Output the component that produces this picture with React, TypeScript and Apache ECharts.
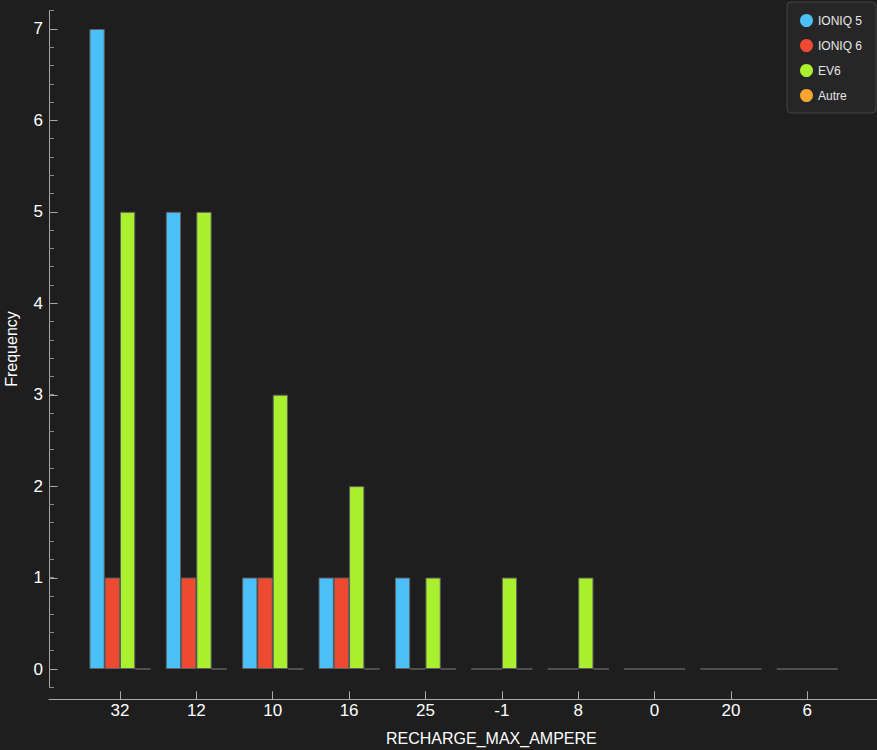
import React, { useEffect, useRef } from "react";
import * as echarts from "echarts";

const categories = ["32", "12", "10", "16", "25", "-1", "8", "0", "20", "6"];
const seriesNames = ["IONIQ 5", "IONIQ 6", "EV6", "Autre"];
const ioniq5 = [7, 5, 1, 1, 1, 0, 0, 0, 0, 0];
const ioniq6 = [1, 1, 1, 1, 0, 0, 0, 0, 0, 0];
const ev6 = [5, 5, 3, 2, 1, 1, 1, 0, 0, 0];
const autre = [0, 0, 0, 0, 0, 0, 0, 0, 0, 0];
const seriesColors = ["#4bc0f8", "#ee4a32", "#aaf02e", "#f6a530"];
const yMajorTicks = [0, 1, 2, 3, 4, 5, 6, 7];
const yMin = -0.2;
const yMax = 7.2;

const FONT = "'Liberation Sans', Arial, Helvetica, sans-serif";

export default function App() {
  const ref = useRef<HTMLDivElement>(null);

  useEffect(() => {
    if (!ref.current) return;
    const chart = echarts.init(ref.current, null, { renderer: "svg" });
    const values = [ioniq5, ioniq6, ev6, autre];

    const gridTop = 10.7;
    const gridHeight = 676.6;

    const barSeries = seriesNames.map((name, i) => ({
      name,
      type: "bar",
      xAxisIndex: 1,
      yAxisIndex: 1,
      data: values[i],
      barGap: "0%",
      barCategoryGap: "20%",
      itemStyle: {
        color: seriesColors[i],
        borderColor: "#606060",
        borderWidth: 1,
      },
      emphasis: { disabled: true },
    }));

    const option: any = {
      animation: false,
      backgroundColor: "#1e1e1e",
      textStyle: { fontFamily: FONT },
      color: seriesColors,
      grid: [
        {
          left: 49,
          right: 0,
          top: gridTop,
          height: gridHeight,
          containLabel: false,
          outerBoundsMode: "none",
        },
        {
          left: 81.8,
          width: 763.7,
          top: gridTop,
          height: gridHeight,
          containLabel: false,
          outerBoundsMode: "none",
        },
      ],
      xAxis: [
        {
          type: "value",
          gridIndex: 0,
          min: 0,
          max: 1,
          position: "bottom",
          offset: 12,
          axisLine: { show: true, onZero: false, lineStyle: { color: "#aaaaaa", width: 1 } },
          axisTick: { show: false },
          axisLabel: { show: false },
          splitLine: { show: false },
        },
        {
          type: "category",
          gridIndex: 1,
          data: categories,
          position: "bottom",
          offset: 12,
          axisLine: { show: false, onZero: false },
          axisTick: {
            show: true,
            inside: true,
            length: 8,
            alignWithLabel: true,
            lineStyle: { color: "#aaaaaa" },
          },
          axisLabel: {
            color: "#ffffff",
            fontSize: 17,
            margin: 3,
            fontFamily: FONT,
          },
          splitLine: { show: false },
        },
      ],
      yAxis: [
        {
          type: "value",
          gridIndex: 0,
          min: yMin,
          max: yMax,
          interval: 0.2,
          name: "Frequency",
          nameLocation: "middle",
          nameGap: 30,
          nameTextStyle: { color: "#ffffff", fontSize: 16, fontFamily: FONT },
          axisLine: { show: true, onZero: false, lineStyle: { color: "#aaaaaa", width: 1 } },
          axisTick: {
            show: true,
            inside: true,
            length: 5,
            lineStyle: { color: "#8a8a8a" },
          },
          axisLabel: {
            color: "#ffffff",
            fontSize: 17,
            margin: 6,
            fontFamily: FONT,
            formatter: (v: number) =>
              Math.abs(v - Math.round(v)) < 1e-6 ? String(Math.round(v)) : "",
          },
          splitLine: { show: false },
        },
        {
          type: "value",
          gridIndex: 1,
          min: yMin,
          max: yMax,
          show: false,
          splitLine: { show: false },
        },
      ],
      legend: {
        data: seriesNames,
        orient: "vertical",
        left: 787,
        top: 2,
        padding: [12, 14, 11, 13],
        itemWidth: 13,
        itemHeight: 13,
        itemGap: 12,
        icon: "circle",
        itemStyle: { borderWidth: 0 },
        textStyle: { color: "#e6e6e6", fontSize: 12, fontFamily: FONT },
        backgroundColor: "#262626",
        borderColor: "#454545",
        borderWidth: 1,
        borderRadius: 4,
        selectedMode: false,
      },
      graphic: [
        {
          type: "text",
          left: 386,
          top: 730,
          style: {
            text: "RECHARGE_MAX_AMPERE",
            fill: "#ffffff",
            fontSize: 16,
            fontFamily: FONT,
          },
        },
      ],
      series: [
        ...barSeries,
        {
          type: "custom",
          name: "majorTicks",
          xAxisIndex: 0,
          yAxisIndex: 0,
          silent: true,
          data: yMajorTicks.map((v) => [0, v]),
          encode: { x: 0, y: 1 },
          renderItem: (params: any, api: any) => {
            const pt = api.coord([0, api.value(1)]);
            const x = Math.round(pt[0]) + 0.5;
            const y = Math.round(pt[1]) + 0.5;
            return {
              type: "line",
              shape: { x1: x, y1: y, x2: x + 8, y2: y },
              style: { stroke: "#aaaaaa", lineWidth: 1 },
            };
          },
        },
      ],
    };

    chart.setOption(option);
    return () => chart.dispose();
  }, []);

  return (
    <div
      ref={ref}
      style={{
        position: "absolute",
        left: 0,
        top: 0,
        width: 877,
        height: 750,
        background: "#1e1e1e",
      }}
    />
  );
}
